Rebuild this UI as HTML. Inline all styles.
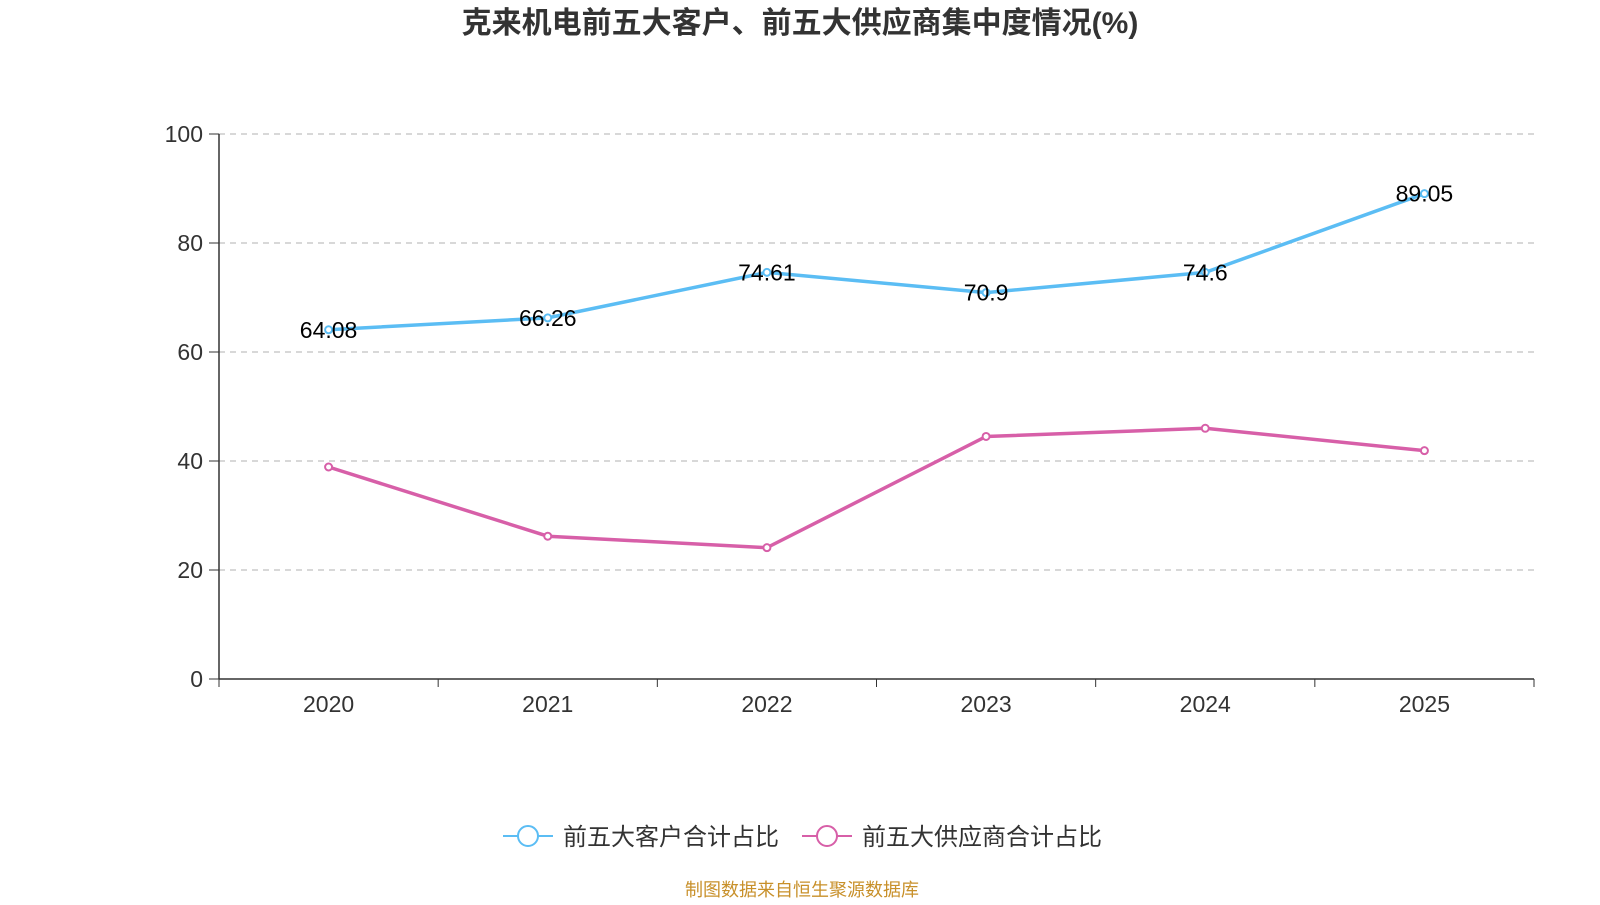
<!DOCTYPE html>
<html><head><meta charset="utf-8"><style>
body{margin:0;background:#fff;font-family:"Liberation Sans","Noto Sans CJK SC",sans-serif;}
svg text{font-family:"Liberation Sans","Noto Sans CJK SC",sans-serif;}
</style></head><body>
<svg id="chart" width="1600" height="900">
<text x="800" y="33" text-anchor="middle" font-size="30" font-weight="bold" fill="#333">克来机电前五大客户、前五大供应商集中度情况(%)</text>
<g id="grid"></g><g id="axes"></g><g id="series"></g>
<g>
<g>
<line x1="503" y1="836" x2="553" y2="836" stroke="#5bbdf4" stroke-width="2"/>
<circle cx="528" cy="836" r="10" fill="#fff" stroke="#5bbdf4" stroke-width="2"/>
<text x="563" y="845" font-size="24" fill="#333">前五大客户合计占比</text></g>
<g>
<line x1="802" y1="836" x2="852" y2="836" stroke="#d75fa8" stroke-width="2"/>
<circle cx="827" cy="836" r="10" fill="#fff" stroke="#d75fa8" stroke-width="2"/>
<text x="862" y="845" font-size="24" fill="#333">前五大供应商合计占比</text></g>
</g>
<text x="802" y="896" text-anchor="middle" font-size="18" fill="#c8902a">制图数据来自恒生聚源数据库</text>
</svg>
<script>
const categories=["2020","2021","2022","2023","2024","2025"];
const customers=[64.08,66.26,74.61,70.9,74.6,89.05];
const customerLabels=["64.08","66.26","74.61","70.9","74.6","89.05"];
const suppliers=[38.9,26.2,24.1,44.5,46.0,41.9];
const yTicks=[0,20,40,60,80,100];
const NS="http://www.w3.org/2000/svg";
const L=219,R=1534,T=134,B=679;
const bw=(R-L)/categories.length;
const x=i=>L+bw*(i+0.5);
const y=v=>B-(v/100)*(B-T);
function mk(tag,attrs,parent,text){const e=document.createElementNS(NS,tag);for(const k in attrs)e.setAttribute(k,attrs[k]);if(text!==undefined)e.textContent=text;parent.appendChild(e);return e;}
const grid=document.getElementById('grid'),axes=document.getElementById('axes'),ser=document.getElementById('series');
yTicks.forEach(t=>{
 if(t>0){const g=mk('line',{x1:L,x2:R,y1:y(t),y2:y(t),stroke:'#ccc','stroke-dasharray':'6,5','stroke-width':1.5},grid);
 
 }
 mk('line',{x1:L-10,x2:L,y1:y(t),y2:y(t),stroke:'#333'},axes);
 const tx=mk('text',{x:L-16,y:y(t)+8,'text-anchor':'end','font-size':23,fill:'#333'},axes,t);
 
 
});
const ya=mk('line',{x1:L,x2:L,y1:T,y2:B,stroke:'#333','stroke-width':1.5},axes);


const xa=mk('line',{x1:L,x2:R,y1:B,y2:B,stroke:'#333','stroke-width':1.5},axes);


for(let i=0;i<=categories.length;i++)mk('line',{x1:L+bw*i,x2:L+bw*i,y1:B,y2:B+8,stroke:'#333'},axes);
categories.forEach((c,i)=>{const t=mk('text',{x:x(i),y:B+33,'text-anchor':'middle','font-size':23,fill:'#333'},axes,c);
 
 });
function series(vals,color,name){
 const p=mk('polyline',{points:vals.map((v,i)=>x(i)+','+y(v)).join(' '),fill:'none',stroke:color,'stroke-width':3.5},ser);
 
 
 vals.forEach((v,i)=>{const c=mk('circle',{cx:x(i),cy:y(v),r:3.5,fill:'#fff',stroke:color,'stroke-width':2},ser);
  
  });
}
series(customers,'#5bbdf4','customers');
series(suppliers,'#d75fa8','suppliers');
customers.forEach((v,i)=>{const t=mk('text',{x:x(i),y:y(v)+8,'text-anchor':'middle','font-size':23,fill:'#000'},ser,customerLabels[i]);
 
 });
</script>
</body></html>
